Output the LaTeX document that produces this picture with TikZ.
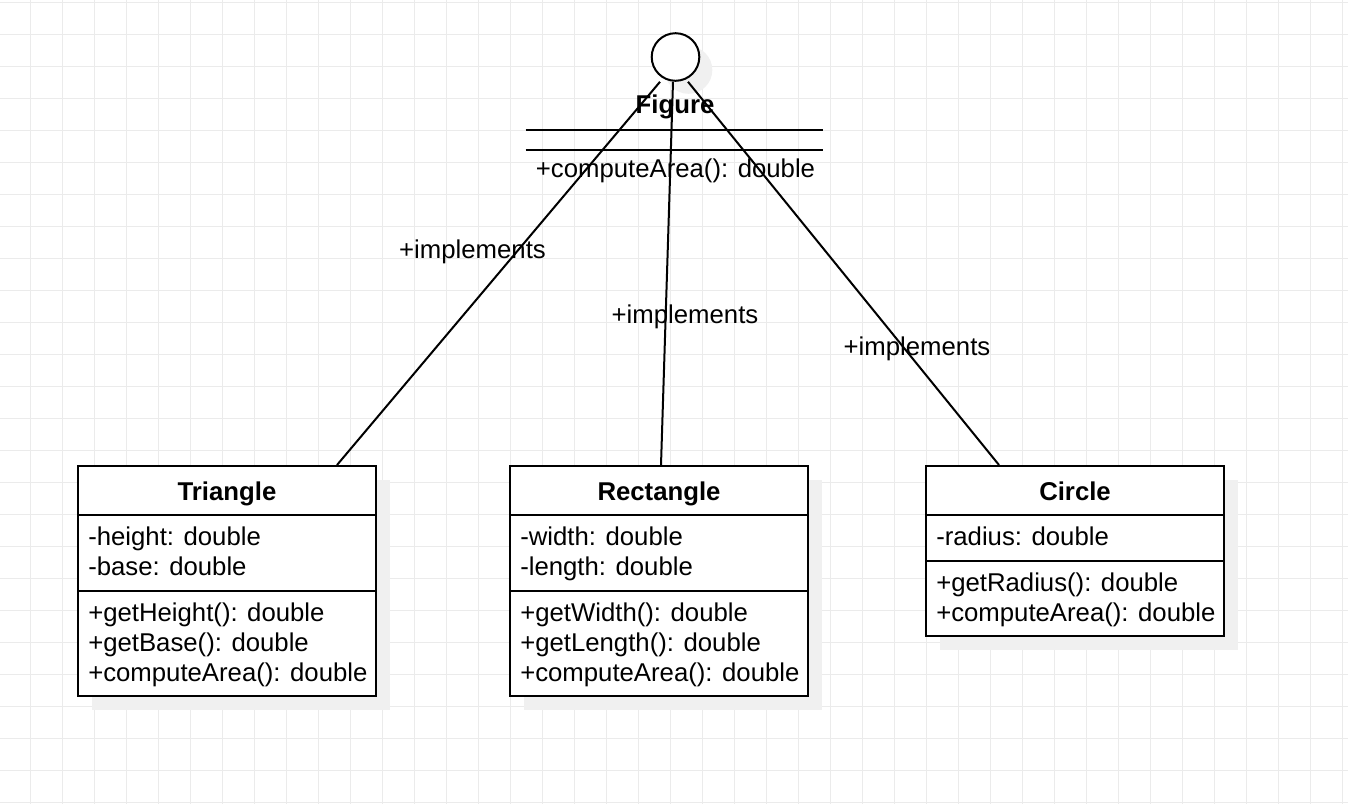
\documentclass[tikz,border=0pt]{standalone}
\usepackage{fontspec}
\setmainfont{Liberation Sans}
\usetikzlibrary{calc,shadows}
\definecolor{gridc}{RGB}{235,235,235}
\definecolor{shadowc}{RGB}{240,240,240}
\begin{document}
\begin{tikzpicture}[x=0.75pt,y=-0.75pt,
  every node/.style={font=\fontsize{19.3pt}{22.5pt}\selectfont},
  classbox/.style={draw=black, line width=1.5pt, fill=white, rectangle, inner sep=0pt, minimum width=223.5pt,
    drop shadow={shadow xshift=10.5pt, shadow yshift=-10.5pt, fill=shadowc, opacity=1}},
  txt/.style={anchor=base west, inner sep=0pt, yshift=-0.4pt},
  ttl/.style={anchor=base, inner sep=0pt, yshift=-0.4pt, font=\fontsize{19.3pt}{22.5pt}\selectfont\bfseries},
  lbl/.style={anchor=base, inner sep=0pt, yshift=-0.4pt},
  conn/.style={draw=black, line width=1.5pt},
  sep/.style={draw=black, line width=1.5pt}
]
\useasboundingbox (0,0) rectangle (1348,804);
\fill[white] (0,0) rectangle (1348,804);
% grid
\foreach \x in {30,62,...,1342} \draw[gridc, line width=0.75pt] (\x,0) -- (\x,804);
\foreach \y in {2,34,...,802} \draw[gridc, line width=0.75pt] (0,\y) -- (1348,\y);

% interface lollipop
\node[circle, draw=black, line width=1.5pt, fill=white, minimum size=35.7pt, inner sep=0pt,
  drop shadow={shadow xshift=9.75pt, shadow yshift=-9.75pt, fill=shadowc, opacity=1}] (lol) at (675.5,57) {};

% Figure class
\node[rectangle, inner sep=0pt, minimum width=222.75pt, minimum height=75pt] (fig) at (674.5,140) {};
\draw[sep] ($(fig.north west)+(0,40)$) -- ($(fig.north east)+(0,40)$);
\draw[sep] ($(fig.north west)+(0,60)$) -- ($(fig.north east)+(0,60)$);
\node[ttl] (figname) at (675,113) {Figure};
\node[lbl] (figop) at (675.5,177) {+computeArea(): double};

% Triangle
\node[classbox, minimum height=172.5pt] (tri) at (227,581) {};
\draw[sep] ($(tri.north west)+(0,50)$) -- ($(tri.north east)+(0,50)$);
\draw[sep] ($(tri.north west)+(0,126)$) -- ($(tri.north east)+(0,126)$);
\node[ttl] (triname) at (227,500) {Triangle};
\node[txt] (tria1) at (88,545) {-height: double};
\node[txt] (tria2) at (88,575) {-base: double};
\node[txt] (trim1) at (88,621) {+getHeight(): double};
\node[txt] (trim2) at (88,651) {+getBase(): double};
\node[txt] (trim3) at (88,681) {+computeArea(): double};

% Rectangle
\node[classbox, minimum height=172.5pt] (rect) at (659,581) {};
\draw[sep] ($(rect.north west)+(0,50)$) -- ($(rect.north east)+(0,50)$);
\draw[sep] ($(rect.north west)+(0,126)$) -- ($(rect.north east)+(0,126)$);
\node[ttl] (rectname) at (659,500) {Rectangle};
\node[txt] (recta1) at (520,545) {-width: double};
\node[txt] (recta2) at (520,575) {-length: double};
\node[txt] (rectm1) at (520,621) {+getWidth(): double};
\node[txt] (rectm2) at (520,651) {+getLength(): double};
\node[txt] (rectm3) at (520,681) {+computeArea(): double};

% Circle
\node[classbox, minimum height=127.5pt] (circ) at (1075,551) {};
\draw[sep] ($(circ.north west)+(0,50)$) -- ($(circ.north east)+(0,50)$);
\draw[sep] ($(circ.north west)+(0,96)$) -- ($(circ.north east)+(0,96)$);
\node[ttl] (circname) at (1075,500) {Circle};
\node[txt] (circa1) at (936,545) {-radius: double};
\node[txt] (circm1) at (936,591) {+getRadius(): double};
\node[txt] (circm2) at (936,621) {+computeArea(): double};

% connectors
\draw[conn] ($(lol.south)+(-15.5,0)$) -- ($(tri.north west)+(260,0)$);
\draw[conn] ($(lol.south)+(-2.5,0)$) -- ($(rect.north west)+(152,0)$);
\draw[conn] ($(lol.south)+(12.5,0)$) -- ($(circ.north west)+(74,0)$);

% labels
\node[lbl] (l1) at (472.5,258) {+implements};
\node[lbl] (l2) at (685,323) {+implements};
\node[lbl] (l3) at (917,355) {+implements};
\end{tikzpicture}
\end{document}
